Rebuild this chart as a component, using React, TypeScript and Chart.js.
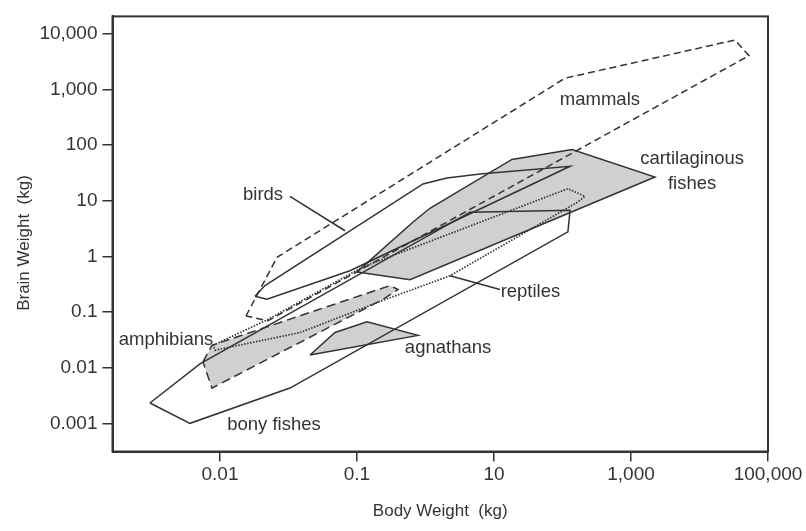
import React, { useEffect, useRef } from "react";
import { Chart, registerables } from "chart.js";

Chart.register(...registerables);

// ---- axis ticks ----
const xTickValues = [0.001, 0.1, 10, 1000, 100000];
const xTickLabels = ["0.01", "0.1", "10", "1,000", "100,000"];
const yTickValues = [0.001, 0.01, 0.1, 1, 10, 100, 1000, 10000];
const yTickLabels = ["0.001", "0.01", "0.1", "1", "10", "100", "1,000", "10,000"];

// ---- polygons (body weight, brain weight) ----
const mammalsX = [0.0024, 0.0068, 109, 33000, 52800, 0.005, 0.0024];
const mammalsY = [0.085, 0.96, 1585, 7690, 4025, 0.0695, 0.085];

const birdsX = [0.00324, 0.00454, 0.92, 2.06, 6.25, 129, 0.079, 0.00485, 0.00324];
const birdsY = [0.191, 0.298, 20, 25.6, 30.1, 41.5, 0.55, 0.17, 0.191];

const cartilaginousX = [0.1, 0.66, 1.16, 18.3, 138, 2240, 0.594, 0.1];
const cartilaginousY = [0.525, 4.14, 7.3, 55, 83, 26.6, 0.38, 0.525];

const reptilesX = [0.00079, 0.00485, 0.122, 120, 213, 163, 2.28, 0.24, 0.0147, 0.00085, 0.00079];
const reptilesY = [0.0252, 0.072, 0.645, 16.4, 11.9, 9.3, 0.447, 0.162, 0.0427, 0.0206, 0.0252];

const amphibiansX = [0.000565, 0.000763, 0.303, 0.397, 0.24, 0.000763, 0.000565];
const amphibiansY = [0.0127, 0.0252, 0.298, 0.254, 0.169, 0.0043, 0.0127];

const agnathansX = [0.0206, 0.0478, 0.14, 0.776, 0.0206];
const agnathansY = [0.0169, 0.0428, 0.0667, 0.038, 0.0169];

const bonyFishesX = [9.5e-5, 0.000365, 0.0105, 120, 129, 4.47, 0.00051, 9.5e-5];
const bonyFishesY = [0.00232, 0.001, 0.0043, 2.76, 6.73, 6.2, 0.0117, 0.00232];

// leader lines
const birdsLeaderX = [0.0105, 0.0668];
const birdsLeaderY = [11.9, 2.88];
const reptilesLeaderX = [2.28, 12.2];
const reptilesLeaderY = [0.447, 0.254];

// labels (anchor in data coordinates)
const labelTexts = ["mammals", "cartilaginous", "fishes", "birds", "reptiles", "agnathans", "amphibians", "bony fishes"];
const labelX = [352, 7800, 7800, 0.00425, 12.5, 0.5, 0.000163, 0.00614];
const labelY = [652, 55.2, 20, 12.8, 0.234, 0.0224, 0.031, 0.00095];
const labelAlign: CanvasTextAlign[] = ["center", "center", "center", "center", "left", "left", "center", "center"];

const INK = "#333333";
const GRAY = "#d0d0d0";
const FONT = "'Liberation Sans', Arial, Helvetica, sans-serif";

const toPts = (xs: number[], ys: number[]) => xs.map((x, i) => ({ x, y: ys[i] }));

const labelPlugin = {
  id: "labels",
  afterDatasetsDraw(chart: any) {
    const { ctx, scales } = chart;
    ctx.save();
    ctx.fillStyle = INK;
    ctx.font = `18.5px ${FONT}`;
    ctx.textBaseline = "middle";
    labelTexts.forEach((t, i) => {
      ctx.textAlign = labelAlign[i];
      ctx.fillText(t, scales.x.getPixelForValue(labelX[i]), scales.y.getPixelForValue(labelY[i]));
    });
    ctx.restore();
  },
  afterDraw(chart: any) {
    const { ctx, chartArea } = chart;
    ctx.save();
    ctx.strokeStyle = INK;
    ctx.lineWidth = 2;
    ctx.strokeRect(chartArea.left, chartArea.top, chartArea.right - chartArea.left, chartArea.bottom - chartArea.top);
    // y-axis title
    ctx.translate(24, 243);
    ctx.rotate(-Math.PI / 2);
    ctx.fillStyle = INK;
    ctx.font = `17px ${FONT}`;
    ctx.textAlign = "center";
    ctx.textBaseline = "middle";
    ctx.fillText("Brain Weight  (kg)", 0, 0);
    ctx.restore();
  },
};

export default function App() {
  const ref = useRef<HTMLCanvasElement | null>(null);
  useEffect(() => {
    if (!ref.current) return;
    const base = {
      showLine: true,
      pointRadius: 0,
      pointHoverRadius: 0,
      borderColor: INK,
      borderWidth: 1.5,
      tension: 0,
      borderJoinStyle: "miter" as const,
    };
    const chart = new Chart(ref.current, {
      type: "scatter",
      data: {
        datasets: [
          { ...base, label: "cartilaginous fishes", data: toPts(cartilaginousX, cartilaginousY), fill: "shape", backgroundColor: GRAY, order: 10 },
          { ...base, label: "amphibians", data: toPts(amphibiansX, amphibiansY), fill: "shape", backgroundColor: GRAY, borderDash: [9, 5], order: 10 },
          { ...base, label: "agnathans", data: toPts(agnathansX, agnathansY), fill: "shape", backgroundColor: GRAY, order: 10 },
          { ...base, label: "mammals", data: toPts(mammalsX, mammalsY), fill: false, borderDash: [7, 4], order: 1 },
          { ...base, label: "birds", data: toPts(birdsX, birdsY), fill: false, order: 1 },
          { ...base, label: "reptiles", data: toPts(reptilesX, reptilesY), fill: false, borderDash: [1.5, 1.5], borderWidth: 1.7, order: 1 },
          { ...base, label: "bony fishes", data: toPts(bonyFishesX, bonyFishesY), fill: false, order: 1 },
          { ...base, label: "birds leader", data: toPts(birdsLeaderX, birdsLeaderY), fill: false, order: 1 },
          { ...base, label: "reptiles leader", data: toPts(reptilesLeaderX, reptilesLeaderY), fill: false, order: 1 },
        ],
      },
      options: {
        responsive: false,
        animation: false,
        layout: { padding: { left: 0, top: 7, right: 38, bottom: 0 } },
        plugins: { legend: { display: false }, tooltip: { enabled: false } },
        scales: {
          x: {
            type: "logarithmic",
            bounds: "data",
            min: Math.pow(10, -4.569),
            max: 100000,
            afterBuildTicks: (s: any) => {
              s.ticks = xTickValues.map((v) => ({ value: v }));
            },
            afterFit: (s: any) => {
              s.height = 79.5;
            },
            ticks: {
              callback: (_v: any, i: number) => xTickLabels[i],
              autoSkip: false,
              maxRotation: 0,
              padding: 2,
              color: INK,
              font: { family: FONT, size: 19 },
            },
            grid: { display: true, drawOnChartArea: false, drawTicks: true, tickLength: 10, color: INK, lineWidth: 1.5 },
            border: { display: true, color: INK, width: 2 },
            title: { display: true, text: "Body Weight  (kg)", color: INK, font: { family: FONT, size: 17 }, padding: { top: 0, bottom: 9 } },
          },
          y: {
            type: "logarithmic",
            bounds: "data",
            min: Math.pow(10, -3.506),
            max: Math.pow(10, 4.31),
            afterBuildTicks: (s: any) => {
              s.ticks = yTickValues.map((v) => ({ value: v }));
            },
            afterFit: (s: any) => {
              s.width = 112.5;
            },
            ticks: {
              callback: (_v: any, i: number) => yTickLabels[i],
              autoSkip: false,
              padding: 5,
              color: INK,
              font: { family: FONT, size: 19 },
            },
            grid: { display: true, drawOnChartArea: false, drawTicks: true, tickLength: 10, color: INK, lineWidth: 1.5 },
            border: { display: true, color: INK, width: 2 },
          },
        },
      },
      plugins: [labelPlugin],
    } as any);
    return () => chart.destroy();
  }, []);
  return (
    <div style={{ position: "absolute", left: 0, top: 0, width: 806, height: 531, background: "#fff" }}>
      <canvas ref={ref} width={806} height={531} />
    </div>
  );
}
